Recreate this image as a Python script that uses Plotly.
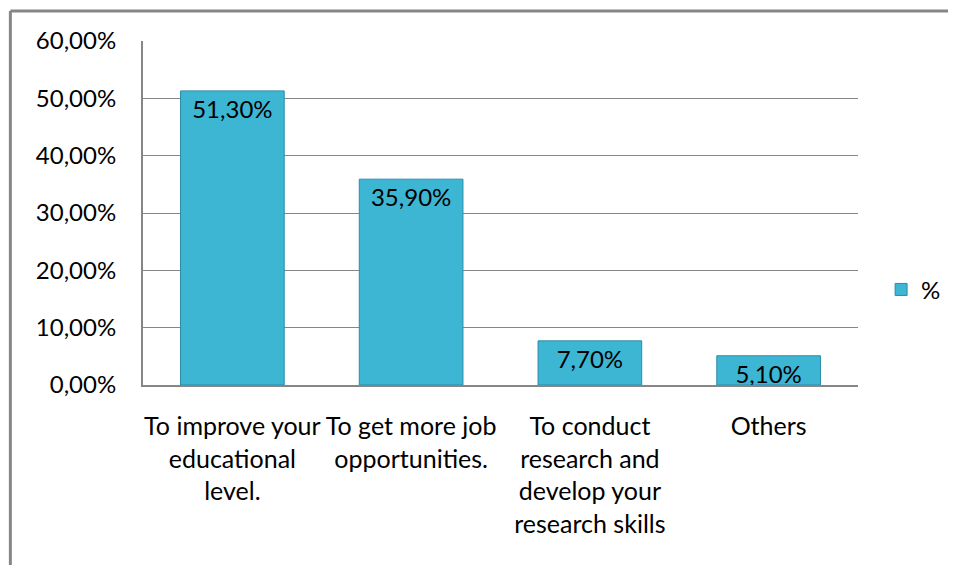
import plotly.graph_objects as go

categories = [
    "To improve your<br>educational<br>level.",
    "To get more job<br>opportunities.",
    "To conduct<br>research and<br>develop your<br>research skills",
    "Others",
]
values = [0.513, 0.359, 0.077, 0.051]
series_name = "%"
y_ticks = [0, 0.1, 0.2, 0.3, 0.4, 0.5, 0.6]

FONT = "Lato, Carlito, Calibri, sans-serif"
GRAY = "#868686"

fig = go.Figure()
fig.add_trace(go.Bar(
    x=categories,
    y=values,
    name=series_name,
    marker=dict(color="#3DB6D3", line=dict(color="#2A8DA9", width=1)),
    texttemplate="%{y:.2%}",
    textposition="inside",
    insidetextanchor="end",
    constraintext="none",
    textfont=dict(family=FONT, size=24, color="#000000"),
    showlegend=True,
))

fig.update_layout(
    width=948,
    height=557,
    margin=dict(l=135, r=98, t=33, b=180, autoexpand=False),
    paper_bgcolor="white",
    plot_bgcolor="white",
    separators=",.",
    bargap=0.42,
    font=dict(family=FONT, size=24, color="#000000"),
    showlegend=True,
    legend=dict(
        xref="container", yref="container",
        x=0.921, y=0.494, xanchor="left", yanchor="middle",
        font=dict(family=FONT, size=24, color="#000000"),
        itemwidth=30,
    ),
    xaxis=dict(
        showline=True, linecolor=GRAY, linewidth=2,
        ticks="", showgrid=False,
        tickfont=dict(family=FONT, size=25, color="#000000"),
        ticklabelstandoff=18,
    ),
    yaxis=dict(
        range=[0, 0.6],
        tickvals=y_ticks,
        tickformat=".2%",
        showline=True, linecolor=GRAY, linewidth=2,
        showgrid=True, gridcolor=GRAY, gridwidth=1,
        zeroline=False,
        ticks="",
        ticklabelstandoff=20,
        tickfont=dict(family=FONT, size=24, color="#000000"),
    ),
    shapes=[
        dict(type="line", xref="paper", yref="paper",
             x0=-0.1855, x1=1.2, y0=1.087, y1=1.087,
             line=dict(color=GRAY, width=3)),
        dict(type="line", xref="paper", yref="paper",
             x0=-0.1855, x1=-0.1855, y0=1.087, y1=-0.6,
             line=dict(color=GRAY, width=3)),
    ],
)

fig.write_html("out.html")
